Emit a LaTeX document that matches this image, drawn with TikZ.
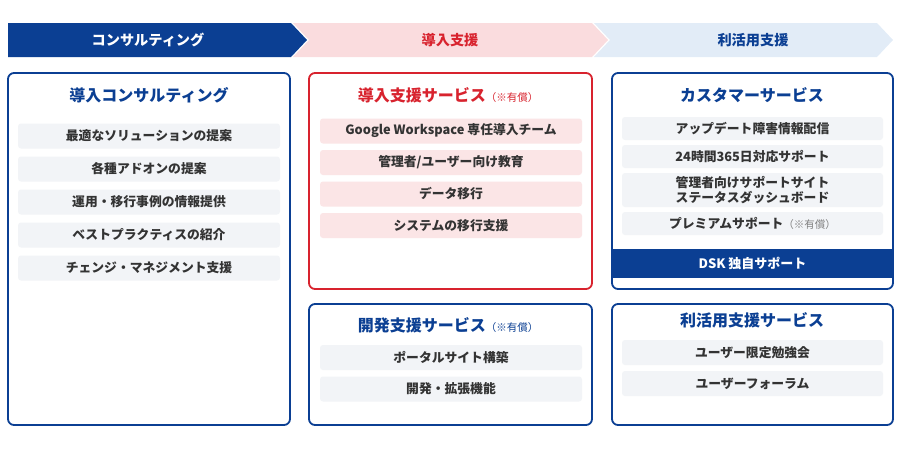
\documentclass[tikz,border=0pt]{standalone}
\usepackage{fontspec}
\setmainfont{Noto Sans CJK JP}
\usetikzlibrary{positioning}
\definecolor{dskblue}{HTML}{0B3F93}
\definecolor{dskred}{HTML}{D8232E}
\definecolor{bnpink}{HTML}{FADCDE}
\definecolor{bnsky}{HTML}{E2ECF7}
\definecolor{itemgray}{HTML}{F2F4F7}
\definecolor{itempink}{HTML}{FBE5E6}
\definecolor{txtgray}{HTML}{333333}
\newcommand{\itemfs}{\fontsize{12.8}{15}\selectfont\bfseries}
\newcommand{\titlefs}{\fontsize{16}{19}\selectfont\bfseries}
\newcommand{\bannerfs}{\fontsize{14.2}{17}\selectfont\bfseries}
\newcommand{\paid}{{\fontsize{10.5}{12}\selectfont\mdseries （※有償）}}
\tikzset{
  panel/.style= {draw=dskblue, line width=1.8pt, rounded corners=6pt, fill=white},
  rpanel/.style= {panel, draw=dskred},
  item/.style= {fill=itemgray, rounded corners=3pt, inner sep=0, minimum width=262pt, minimum height=25pt, text=txtgray, font=\itemfs, align=center},
  pitem/.style= {item, fill=itempink},
  ptitle/.style= {text=dskblue, font=\titlefs, inner sep=0},
  btext/.style= {font=\bannerfs, inner sep=0},
}

\begin{document}
\begin{tikzpicture}[x=1pt, y=-1pt]
  \useasboundingbox (0,0) rectangle (900,450);

  % banners
  \fill [bnsky] (594,23) -- (877,23) -- (893,40) -- (877,57) -- (594,57) -- (610,40) -- cycle;
  \fill [bnpink] (293,23) -- (592,23) -- (608,40) -- (592,57) -- (293,57) -- (309,40) -- cycle;
  \fill [dskblue] (8,23) -- (291,23) -- (307,40) -- (291,57) -- (8,57) -- cycle;
  \node [btext, white] (bcons) at (148,40) {コンサルティング};
  \node [btext, dskred] (bintro) at (450,40) {導入支援};
  \node [btext, dskblue] (buse) at (753,40) {利活用支援};

  % panels
  \draw [panel] (8,73) rectangle (290,425);
  \draw [rpanel] (309,73) rectangle (592,289);
  \draw [panel] (309,304) rectangle (592,425);
  \fill [white, rounded corners=6pt] (612,73) rectangle (893,289);
  \fill [dskblue] (612,249) rectangle (893,278);
  \draw [panel, fill=none] (612,73) rectangle (893,289);
  \draw [panel] (612,304) rectangle (893,425);

  % consulting
  \node [ptitle] (tcons) at (149,95) {導入コンサルティング};
  \node [item] (c1) at (149,136) {最適なソリューションの提案};
  \node [item] (c2) at (149,169) {各種アドオンの提案};
  \node [item] (c3) at (149,202) {運用・移行事例の情報提供};
  \node [item] (c4) at (149,235) {ベストプラクティスの紹介};
  \node [item] (c5) at (149,268) {チェンジ・マネジメント支援};

  % introduction
  \node [ptitle, dskred] (tintro) at (448,95) {導入支援サービス\paid};
  \node [pitem] (i1) at (451,131) {Google Workspace 専任導入チーム};
  \node [pitem] (i2) at (451,162.5) {管理者/ユーザー向け教育};
  \node [pitem] (i3) at (451,194) {データ移行};
  \node [pitem] (i4) at (451,225.5) {システムの移行支援};

  \node [ptitle] (tdev) at (448,325) {開発支援サービス\paid};
  \node [item] (d1) at (451,357.5) {ポータルサイト構築};
  \node [item] (d2) at (451,389) {開発・拡張機能};

  % usage
  \node [ptitle] (tcust) at (752,95) {カスタマーサービス};
  \node [item, minimum width=261pt, minimum height=23pt] (u1) at (752.5,128.5) {アップデート障害情報配信};
  \node [item, minimum width=261pt, minimum height=23pt] (u2) at (752.5,156.5) {24時間365日対応サポート};
  \node [item, minimum width=261pt, minimum height=34pt] (u3) at (752.5,190) {管理者向けサポートサイト\\ステータスダッシュボード};
  \node [item, minimum width=261pt, minimum height=23pt] (u4) at (752.5,223.5) {プレミアムサポート{\color{gray}\paid}};
  \node [btext, white] (dsk) at (752.5,263.5) {\fontsize{13}{16}\selectfont DSK 独自サポート};

  \node [ptitle] (tuse) at (752,320) {利活用支援サービス};
  \node [item, minimum width=261pt] (s1) at (752.5,352.5) {ユーザー限定勉強会};
  \node [item, minimum width=261pt] (s2) at (752.5,383.5) {ユーザーフォーラム};
\end{tikzpicture}
\end{document}
